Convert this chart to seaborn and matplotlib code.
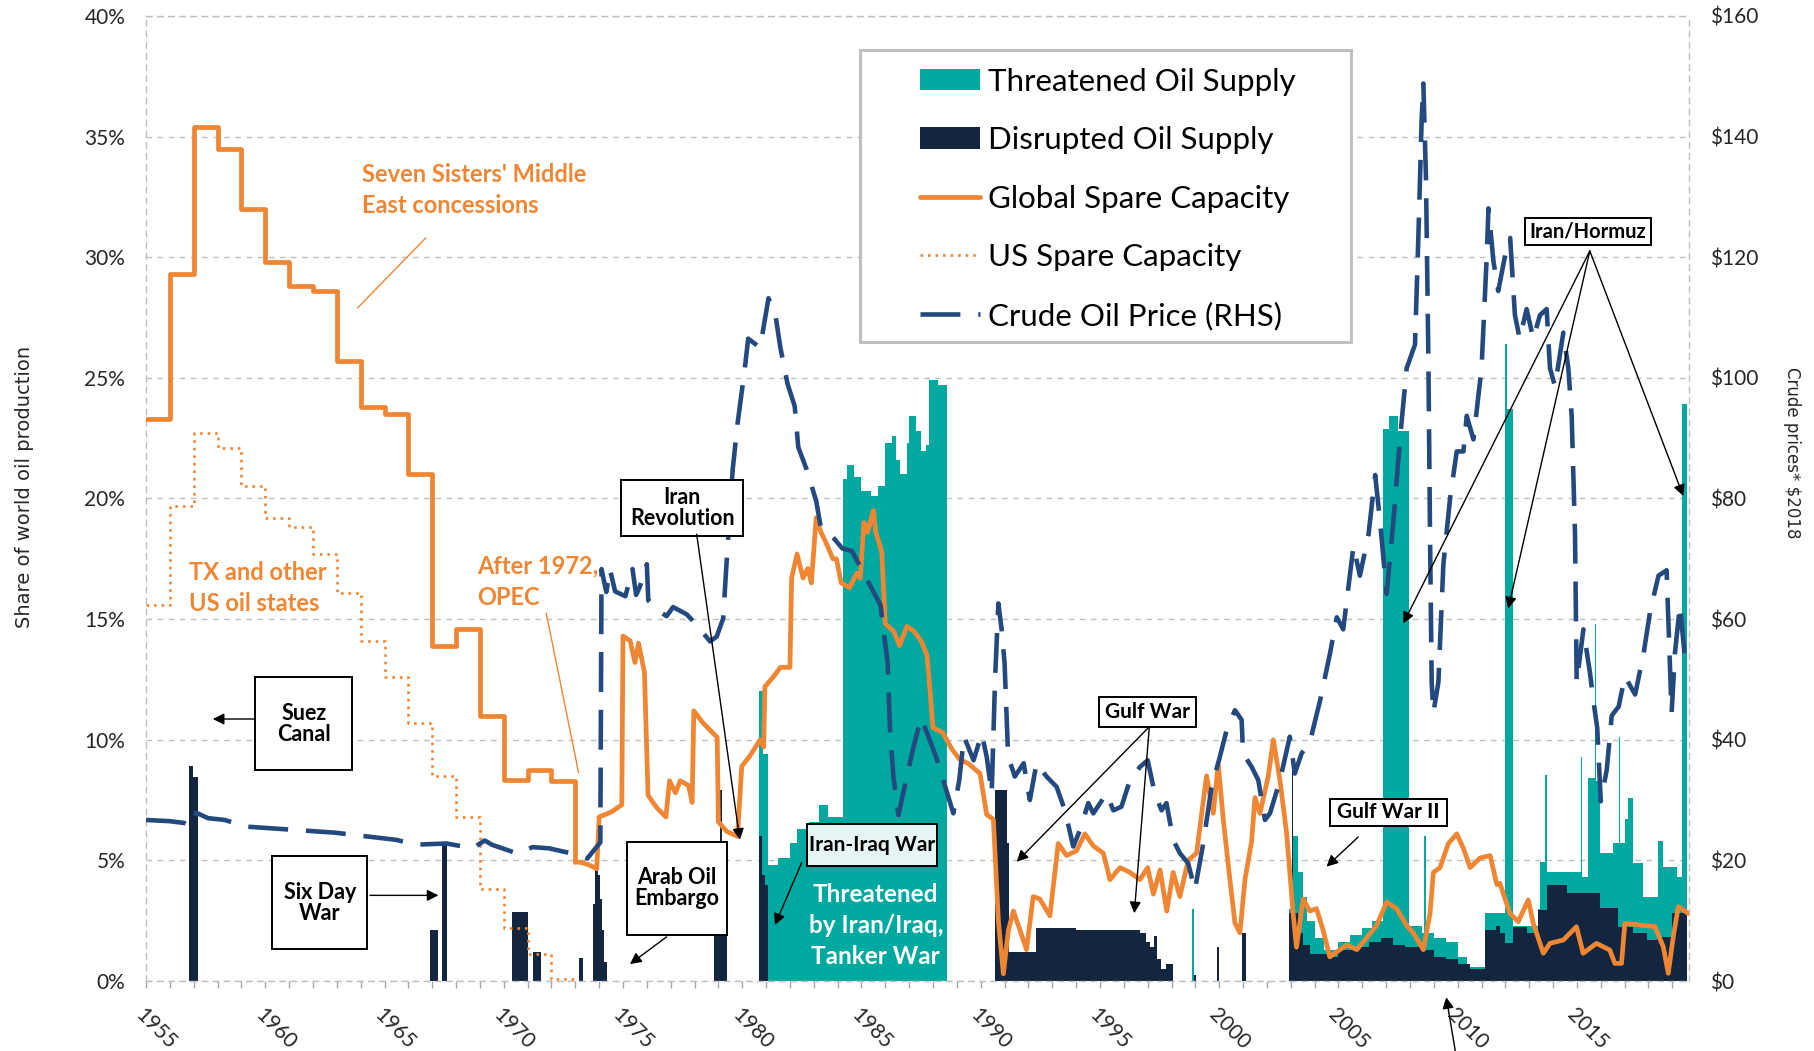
import matplotlib
matplotlib.use("Agg")
import matplotlib.pyplot as plt
import seaborn as sns
from matplotlib.lines import Line2D
from matplotlib.patches import Patch, Rectangle
from matplotlib.ticker import MultipleLocator, FuncFormatter

# ---------------- data ----------------
# Global spare capacity, share of world production (%), annual steps 1955-1972
global_annual = [(1955, 23.3), (1956, 29.3), (1957, 35.4), (1958, 34.5), (1959, 32.0),
                 (1960, 29.8), (1961, 28.8), (1962, 28.6), (1963, 25.7), (1964, 23.8),
                 (1965, 23.5), (1966, 21.0), (1967, 13.9), (1968, 14.6), (1969, 11.0),
                 (1970, 8.35), (1971, 8.75), (1972, 8.3), (1973, 4.95)]
# Global spare capacity after 1973 (year, %)
global_recent = [(1973.0, 4.95), (1973.3, 4.9), (1973.6, 4.8), (1973.9, 4.65), (1974.0, 6.8),
                 (1974.5, 7.0), (1974.95, 7.3), (1975.0, 14.3), (1975.3, 14.1), (1975.5, 13.2),
                 (1975.65, 14.0), (1975.9, 12.8), (1976.05, 7.7), (1976.4, 7.2), (1976.8, 6.8),
                 (1976.95, 8.3), (1977.2, 7.8), (1977.4, 8.3), (1977.75, 8.1), (1977.9, 7.4),
                 (1977.97, 11.2), (1978.35, 10.7), (1978.75, 10.3), (1978.95, 10.1), (1979.0, 6.6),
                 (1979.35, 6.2), (1979.8, 6.0), (1979.98, 8.9), (1980.3, 9.3), (1980.75, 10.0),
                 (1980.9, 9.7), (1980.95, 12.2), (1981.3, 12.6), (1981.6, 13.0), (1982.0, 13.0),
                 (1982.07, 16.7), (1982.3, 17.7), (1982.55, 16.7), (1982.75, 17.1), (1982.9, 16.5),
                 (1983.1, 19.2), (1983.3, 18.6), (1983.5, 18.2), (1983.8, 17.5), (1983.95, 17.5),
                 (1984.15, 16.5), (1984.5, 16.3), (1984.8, 16.9), (1984.95, 16.7), (1985.1, 19.0),
                 (1985.25, 18.6), (1985.5, 19.5), (1985.6, 18.6), (1985.85, 17.8), (1986.0, 14.8),
                 (1986.35, 14.5), (1986.6, 13.9), (1986.9, 14.7), (1987.2, 14.5), (1987.5, 14.1),
                 (1987.75, 13.5), (1988.0, 10.5), (1988.4, 10.3), (1988.8, 9.6), (1989.1, 9.2),
                 (1989.5, 9.0), (1989.97, 8.6), (1990.25, 6.9), (1990.53, 6.7), (1990.74, 2.5),
                 (1990.95, 0.3), (1991.16, 2.1), (1991.37, 2.9), (1991.65, 2.1), (1991.92, 1.3),
                 (1992.2, 3.5), (1992.48, 3.4), (1992.9, 2.7), (1993.25, 5.7), (1993.6, 5.2),
                 (1994.02, 5.4), (1994.37, 6.1), (1994.72, 5.6), (1995.14, 5.3), (1995.42, 4.2),
                 (1995.84, 4.7), (1996.26, 4.5), (1996.68, 4.2), (1997.0, 4.7), (1997.24, 3.6),
                 (1997.52, 4.6), (1997.8, 2.9), (1998.07, 4.5), (1998.35, 3.5), (1998.7, 5.0),
                 (1999.05, 5.3), (1999.47, 8.5), (1999.75, 6.95), (1999.96, 9.0), (2000.17, 6.7),
                 (2000.45, 4.2), (2000.66, 2.4), (2000.87, 2.0), (2001.08, 4.2), (2001.36, 5.8),
                 (2001.5, 7.6), (2001.71, 6.95), (2002.06, 8.5), (2002.27, 10.0), (2002.55, 8.3),
                 (2002.83, 6.1), (2003.1, 2.8), (2003.24, 1.4), (2003.52, 3.4), (2003.8, 2.9),
                 (2004.08, 3.0), (2004.36, 2.1), (2004.64, 1.0), (2004.92, 1.2), (2005.35, 1.5),
                 (2005.77, 1.3), (2006.19, 1.8), (2006.6, 2.3), (2007.02, 3.27), (2007.44, 3.0),
                 (2007.86, 2.3), (2008.14, 2.0), (2008.56, 1.3), (2008.84, 2.8), (2008.98, 4.5),
                 (2009.26, 4.7), (2009.61, 5.7), (2009.96, 6.1), (2010.24, 5.5), (2010.52, 4.7),
                 (2010.94, 5.1), (2011.36, 5.2), (2011.64, 4.0), (2011.77, 4.05), (2012.19, 2.8),
                 (2012.54, 2.46), (2012.96, 3.36), (2013.17, 2.39), (2013.59, 1.15), (2013.87, 1.56),
                 (2014.43, 1.7), (2014.98, 2.25), (2015.26, 1.15), (2015.82, 1.56), (2016.38, 1.28),
                 (2016.59, 0.73), (2016.87, 0.73), (2017.01, 2.39), (2017.64, 2.32), (2018.27, 2.25),
                 (2018.62, 1.42), (2018.83, 0.32), (2019.04, 1.84), (2019.25, 3.08), (2019.67, 2.8)]
# US spare capacity (%), annual steps
us_spare = [(1955, 15.6), (1956, 19.7), (1957, 22.7), (1958, 22.1), (1959, 20.5), (1960, 19.2),
            (1961, 18.8), (1962, 17.7), (1963, 16.1), (1964, 14.1), (1965, 12.6), (1966, 10.7),
            (1967, 8.5), (1968, 6.8), (1969, 3.8), (1970, 2.2), (1971, 1.1), (1972, 0.1), (1973, 0.1)]
# Crude oil price, $2018 (RHS)
price = [(1955.0, 26.7), (1956.0, 26.5), (1956.6, 26.2), (1956.9, 25.6), (1957.1, 27.9),
         (1957.6, 27.0), (1958.3, 26.7), (1959.2, 25.6), (1960.7, 25.2), (1961.8, 24.9),
         (1962.9, 24.6), (1964.4, 23.9), (1965.5, 23.4), (1966.3, 22.6), (1967.6, 22.8),
         (1968.7, 22.0), (1969.2, 23.3), (1969.5, 22.6), (1970.6, 21.1), (1971.2, 22.2),
         (1971.9, 22.0), (1972.9, 21.1), (1973.5, 20.3), (1973.85, 22.0), (1974.05, 23.0),
         (1974.1, 68.3), (1974.3, 64.5), (1974.45, 68.3), (1974.67, 64.6), (1975.1, 63.8),
         (1975.25, 66.0), (1975.4, 68.3), (1975.55, 64.0), (1975.7, 65.3), (1976.0, 69.1),
         (1976.06, 63.1), (1976.55, 61.2), (1976.83, 60.5), (1977.1, 62.0), (1977.67, 60.8),
         (1978.1, 59.0), (1978.65, 56.3), (1978.93, 57.1), (1979.2, 60.1), (1979.35, 69.8),
         (1979.6, 84.8), (1979.8, 92.3), (1980.1, 101.3), (1980.25, 106.5), (1980.75, 105.0),
         (1981.1, 113.2), (1981.4, 110.2), (1981.6, 105.0), (1981.9, 99.0), (1982.2, 95.3),
         (1982.35, 88.5), (1982.7, 84.8), (1983.1, 79.6), (1983.3, 75.1), (1983.8, 73.6),
         (1984.2, 71.7), (1984.6, 71.3), (1985.0, 68.3), (1985.4, 65.3), (1985.8, 62.3),
         (1986.1, 52.6), (1986.2, 41.4), (1986.34, 33.9), (1986.55, 27.5), (1986.9, 33.9),
         (1987.2, 39.1), (1987.5, 43.6), (1987.8, 40.6), (1988.15, 36.9), (1988.6, 31.1),
         (1988.85, 27.8), (1989.1, 33.3), (1989.3, 40.5), (1989.7, 36.6), (1990.04, 41.0),
         (1990.25, 37.2), (1990.46, 31.1), (1990.6, 49.9), (1990.74, 62.6), (1990.88, 58.2),
         (1991.0, 52.7), (1991.15, 37.2), (1991.43, 33.9), (1991.8, 36.1), (1992.06, 30.0),
         (1992.34, 36.1), (1992.76, 33.9), (1993.18, 32.2), (1993.53, 28.3), (1993.88, 22.3),
         (1994.16, 25.0), (1994.51, 29.5), (1994.72, 27.8), (1995.28, 31.1), (1995.56, 28.3),
         (1995.9, 28.9), (1996.26, 33.3), (1996.68, 35.5), (1997.0, 36.6), (1997.3, 31.1),
         (1997.58, 28.3), (1997.79, 29.5), (1998.07, 23.4), (1998.35, 21.2), (1998.7, 19.5),
         (1998.98, 15.1), (1999.33, 22.8), (1999.68, 32.2), (2000.03, 37.2), (2000.31, 41.6),
         (2000.66, 44.9), (2000.94, 43.3), (2001.0, 37.7), (2001.36, 35.5), (2001.64, 33.3),
         (2001.92, 26.7), (2002.13, 27.8), (2002.55, 33.3), (2002.96, 40.5), (2003.17, 34.4),
         (2003.45, 37.7), (2003.8, 39.6), (2004.23, 46.5), (2004.65, 54.4), (2004.93, 60.3),
         (2005.2, 58.3), (2005.63, 72.1), (2005.9, 67.2), (2006.26, 74.0), (2006.54, 83.9),
         (2006.75, 76.0), (2007.02, 64.2), (2007.3, 76.0), (2007.58, 89.8), (2007.86, 101.6),
         (2008.21, 105.5), (2008.35, 123.2), (2008.49, 142.9), (2008.56, 148.8), (2008.67, 133.1),
         (2008.77, 103.5), (2008.84, 74.0), (2008.91, 49.5), (2008.98, 44.5), (2009.19, 49.5),
         (2009.4, 69.1), (2009.68, 80.0), (2009.96, 87.8), (2010.24, 87.8), (2010.38, 93.7),
         (2010.66, 89.8), (2011.0, 101.6), (2011.22, 120.3), (2011.29, 128.1), (2011.5, 119.3),
         (2011.7, 114.4), (2011.99, 120.3), (2012.2, 123.2), (2012.4, 110.4), (2012.6, 106.5),
         (2012.89, 111.4), (2013.17, 106.5), (2013.45, 110.4), (2013.73, 111.4), (2013.87, 101.6),
         (2014.08, 98.6), (2014.43, 107.5), (2014.64, 101.6), (2014.78, 93.7), (2014.92, 74.0),
         (2014.99, 49.5), (2015.27, 58.3), (2015.55, 51.0), (2015.69, 46.5), (2015.85, 42.0),
         (2016.0, 29.8), (2016.25, 35.0), (2016.46, 44.0), (2016.75, 45.5), (2017.01, 50.5),
         (2017.44, 47.5), (2017.8, 54.4), (2018.07, 61.3), (2018.42, 67.2), (2018.76, 68.1),
         (2018.97, 44.5), (2019.11, 54.4), (2019.32, 62.3), (2019.53, 53.4)]
# Disrupted oil supply (% of world production), value holds until next year mark
disrupted = [(1955.0, 0), (1956.79, 8.9), (1956.95, 8.45), (1957.17, 0), (1966.92, 2.1), (1967.23, 0),
             (1967.40, 5.7), (1967.61, 0), (1970.33, 2.85), (1971.0, 0), (1971.23, 1.2), (1971.55, 0),
             (1973.16, 0.95), (1973.31, 0), (1973.76, 3.2), (1973.84, 4.9), (1973.95, 4.4),
             (1974.05, 3.4), (1974.13, 2.1), (1974.22, 0.8), (1974.33, 0), (1978.82, 5.0),
             (1978.9, 5.7), (1979.08, 7.9), (1979.14, 5.7), (1979.35, 0), (1980.72, 6.0),
             (1980.82, 4.4), (1980.95, 4.0), (1981.1, 0), (1990.6, 7.9), (1991.09, 5.7),
             (1991.18, 1.2), (1992.3, 2.2), (1994.0, 2.1), (1996.68, 2.0), (1996.95, 1.6),
             (1997.1, 1.4), (1997.25, 1.85), (1997.4, 0.9), (1997.55, 0.5), (1997.75, 0.7),
             (1998.07, 0), (1998.95, 0.25), (1999.02, 0), (1999.9, 1.4), (1999.98, 0),
             (2000.94, 2.0), (2001.12, 0), (2002.94, 2.8), (2003.04, 9.2), (2003.1, 2.8),
             (2003.3, 2.0), (2003.5, 1.5), (2003.8, 1.1), (2004.5, 1.0), (2005.0, 1.3),
             (2005.8, 1.4), (2006.3, 1.6), (2006.8, 1.8), (2007.3, 1.5), (2007.8, 1.4),
             (2008.5, 1.3), (2009.0, 1.0), (2009.5, 0.9), (2010.0, 0.7), (2010.5, 0.5),
             (2011.15, 2.1), (2011.6, 2.3), (2011.77, 1.98), (2012.0, 1.56), (2012.33, 2.25),
             (2012.9, 1.98), (2013.38, 2.94), (2013.73, 3.98), (2014.57, 3.63), (2015.96, 3.01),
             (2016.73, 2.25), (2017.36, 1.98), (2017.92, 1.7), (2018.34, 1.84), (2018.97, 2.8),
             (2019.62, 0)]
# Threatened oil supply (% of world production)
threatened = [(1955.0, 0), (1980.72, 12.0), (1980.85, 9.4), (1981.1, 4.8), (1981.5, 5.1),
              (1982.0, 5.7), (1982.3, 6.3), (1982.8, 6.6), (1983.2, 7.3), (1983.6, 6.8),
              (1984.24, 20.8), (1984.4, 21.4), (1984.7, 20.9), (1985.0, 20.3), (1985.4, 20.1),
              (1985.7, 20.5), (1986.0, 22.3), (1986.3, 22.6), (1986.45, 21.6), (1986.6, 21.0),
              (1986.9, 22.3), (1987.0, 23.4), (1987.3, 22.8), (1987.5, 21.95), (1987.7, 22.2),
              (1987.85, 24.9), (1988.2, 24.7), (1988.57, 0), (1998.85, 3.0), (1998.95, 0),
              (2002.94, 3.0), (2003.1, 6.0), (2003.3, 4.5), (2003.5, 3.5), (2003.7, 2.5),
              (2004.0, 1.8), (2004.4, 1.3), (2005.0, 1.6), (2005.5, 1.9), (2006.0, 2.2),
              (2006.4, 2.5), (2006.85, 22.9), (2007.1, 23.4), (2007.5, 22.8), (2007.97, 2.3),
              (2008.5, 2.0), (2008.6, 6.0), (2008.68, 2.0), (2009.0, 1.8), (2009.5, 1.6),
              (2010.0, 1.0), (2010.4, 0.6), (2011.15, 2.8), (2011.98, 26.4), (2012.06, 23.7),
              (2012.33, 2.3), (2013.38, 3.0), (2013.45, 4.95), (2013.68, 8.54), (2013.73, 4.53),
              (2015.15, 9.3), (2015.2, 4.3), (2015.47, 8.4), (2015.77, 14.8), (2015.81, 8.3),
              (2015.96, 5.3), (2016.52, 5.7), (2016.75, 10.1), (2016.8, 5.7), (2017.01, 6.7),
              (2017.15, 7.57), (2017.36, 4.88), (2017.78, 3.5), (2018.41, 5.8), (2018.62, 4.74),
              (2019.18, 4.3), (2019.42, 23.9), (2019.62, 0)]

legend_labels = ["Threatened Oil Supply", "Disrupted Oil Supply", "Global Spare Capacity",
                 "US Spare Capacity", "Crude Oil Price (RHS)"]
year_ticks = list(range(1955, 2020, 5))
pct_ticks = list(range(0, 41, 5))
usd_ticks = list(range(0, 161, 20))

# ---------------- style ----------------
sns.set_style("white")
plt.rcParams["font.family"] = ["Lato", "DejaVu Sans"]

TEAL = "#00A99F"
DARK = "#13253F"
ORANGE = "#EE8633"
NAVY = "#23497E"
GRID = "#BFBFBF"
TXT = "#262626"
PX_PER_YEAR = 23.85      # reference pixel scale (used only to size annotation boxes)
PX_PER_PCT = 24.125

fig = plt.figure(figsize=(18.14, 10.51), dpi=100)
fig.patch.set_facecolor("white")
ax = fig.add_axes([0.0805, 0.0666, 0.8506, 0.9182])
ax2 = ax.twinx()


def unzip(pairs):
    return [p[0] for p in pairs], [p[1] for p in pairs]


tx, ty = unzip(threatened)
dx, dy = unzip(disrupted)
ax.fill_between(tx, ty, step="post", color=TEAL, lw=0, zorder=1)
ax.fill_between(dx, dy, step="post", color=DARK, lw=0, zorder=2)

US_DOTS = (0, (1, 1.85))
PRICE_DASH = (0, (8.7, 3.9))

ux, uy = unzip(us_spare)
sns.lineplot(x=ux, y=uy, ax=ax, estimator=None, sort=False, drawstyle="steps-post",
             color=ORANGE, lw=1.9, zorder=3)
ax.lines[-1].set_linestyle(US_DOTS)

gx, gy = unzip(global_annual)
sns.lineplot(x=gx, y=gy, ax=ax, estimator=None, sort=False, drawstyle="steps-post",
             color=ORANGE, lw=3.4, zorder=4)
rx, ry = unzip(global_recent)
sns.lineplot(x=rx, y=ry, ax=ax, estimator=None, sort=False, color=ORANGE, lw=3.4, zorder=4)

px, py = unzip(price)
sns.lineplot(x=px, y=py, ax=ax2, estimator=None, sort=False, color=NAVY, lw=3.3, zorder=3)
ax2.lines[-1].set_linestyle(PRICE_DASH)

# ---------------- axes ----------------
ax.set_xlim(1955, 2019.7)
ax.set_ylim(0, 40)
ax2.set_ylim(0, 160)
ax.set_xlabel("")
ax.set_ylabel("")
ax2.set_ylabel("")

ax.set_yticks(pct_ticks)
ax.yaxis.set_major_formatter(FuncFormatter(lambda v, p: f"{v:.0f}%"))
ax2.set_yticks(usd_ticks)
ax2.yaxis.set_major_formatter(FuncFormatter(lambda v, p: f"${v:.0f}"))
ax.tick_params(axis="y", length=0, pad=15, labelsize=15, labelcolor=TXT)
ax2.tick_params(axis="y", length=0, pad=15, labelsize=15, labelcolor=TXT)

ax.set_xticks(year_ticks)
ax.set_xticklabels([str(y) for y in year_ticks], rotation=-45, ha="left", va="top",
                   rotation_mode="anchor")
ax.xaxis.set_minor_locator(MultipleLocator(1))
ax.tick_params(axis="x", which="both", bottom=True, direction="out", length=5, width=1,
               color="#A6A6A6", labelsize=15, labelcolor=TXT, pad=12)

ax.yaxis.grid(True, color=GRID, linestyle=(0, (4, 4)), lw=1)
ax.xaxis.grid(False)
for s in ax.spines.values():
    s.set_color(GRID)
    s.set_linestyle((0, (4, 4)))
    s.set_linewidth(1)
for s in ax2.spines.values():
    s.set_visible(False)

fig.text(25 / 1814, 1 - 487 / 1051, "Share of world oil production", rotation=90,
         ha="center", va="center", fontsize=14, color=TXT, family="DejaVu Sans")
fig.text(1792 / 1814, 1 - 453 / 1051, "Crude prices* $2018", rotation=270,
         ha="center", va="center", fontsize=12, color=TXT, family="DejaVu Sans")

# ---------------- legend ----------------
ax2.add_patch(Rectangle((0.463, 0.662), 0.318, 0.303, transform=ax2.transAxes,
                        facecolor="white", edgecolor="#BFBFBF", lw=2.2, zorder=8))
handles = [Patch(facecolor=TEAL, edgecolor="none"),
           Patch(facecolor=DARK, edgecolor="none"),
           Line2D([], [], color=ORANGE, lw=3.4),
           Line2D([], [], color=ORANGE, lw=1.9, linestyle=US_DOTS),
           Line2D([], [], color=NAVY, lw=3.3, linestyle=PRICE_DASH)]
leg = ax2.legend(handles, legend_labels, loc="upper left", bbox_to_anchor=(0.5016, 0.9466),
                 bbox_transform=ax2.transAxes, frameon=False, fontsize=22.5,
                 handlelength=1.92, handleheight=0.67, handletextpad=0.25,
                 labelspacing=0.976, borderpad=0, borderaxespad=0)
leg.set_zorder(9)
for t in leg.get_texts():
    t.set_color("black")

# ---------------- annotations ----------------
T = ax.transData


def box(x, y, s, w_px, h_px, fs=15.5, fc="white"):
    w = w_px / PX_PER_YEAR
    h = h_px / PX_PER_PCT
    ax2.add_patch(Rectangle((x - w / 2, y - h / 2), w, h, transform=T, facecolor=fc,
                            edgecolor="black", lw=1.4, zorder=7))
    ax2.text(x, y, s, transform=T, ha="center", va="center", fontsize=fs,
             fontweight="bold", color="black", linespacing=1.0, zorder=8)


def arrow(tail, head, clip=True):
    ax2.annotate("", xy=head, xycoords=T, xytext=tail, textcoords=T,
                 annotation_clip=clip, zorder=7,
                 arrowprops=dict(arrowstyle="-|>", color="black", lw=1.0,
                                 mutation_scale=17, shrinkA=0, shrinkB=0))


def thin(tail, head):
    ax2.annotate("", xy=head, xycoords=T, xytext=tail, textcoords=T, zorder=7,
                 arrowprops=dict(arrowstyle="-", color=ORANGE, lw=1.0,
                                 shrinkA=0, shrinkB=0))


orange_kw = dict(transform=T, ha="left", va="center", fontsize=17, fontweight="bold",
                 color=ORANGE, linespacing=1.42, zorder=7)
ax2.text(1964.07, 32.8, "Seven Sisters' Middle\nEast concessions", **orange_kw)
thin((1966.73, 30.8), (1963.87, 27.9))
ax2.text(1956.79, 16.3, "TX and other\nUS oil states", **orange_kw)
ax2.text(1968.87, 16.55, "After 1972,\nOPEC", **orange_kw)
thin((1971.78, 15.25), (1973.14, 8.63))

box(1961.61, 10.67, "Suez\nCanal", 97, 93)
arrow((1959.58, 10.86), (1957.80, 10.86))
box(1962.29, 3.25, "Six Day\nWar", 95, 93)
arrow((1964.39, 3.55), (1967.26, 3.55))
box(1977.48, 19.61, "Iran\nRevolution", 122, 56)
arrow((1978.09, 18.52), (1979.9, 5.85))
box(1977.25, 3.84, "Arab Oil\nEmbargo", 100, 93)
arrow((1976.83, 1.83), (1975.29, 0.70))
box(1985.44, 5.62, "Iran-Iraq War", 130, 42, fs=15, fc="#E6F4F3")
arrow((1982.49, 4.9), (1981.37, 2.32))
ax2.text(1985.6, 2.3, "Threatened\nby Iran/Iraq,\nTanker War", transform=T, ha="center",
         va="center", fontsize=17.5, fontweight="bold", color="white", linespacing=1.42,
         zorder=7)
box(1997.0, 11.15, "Gulf War", 97, 30, fs=15)
arrow((1997.07, 10.54), (1991.51, 4.94))
arrow((1997.07, 10.54), (1996.44, 2.81))
box(2007.09, 7.0, "Gulf War II", 117, 27, fs=15)
arrow((2005.83, 5.97), (2004.5, 4.74))
box(2015.46, 31.05, "Iran/Hormuz", 126, 27, fs=14.5)
arrow((2015.54, 30.26), (2007.72, 14.82))
arrow((2015.54, 30.26), (2012.12, 15.44))
arrow((2015.54, 30.26), (2019.46, 20.1))
arrow((2009.9, -2.9), (2009.52, -0.67), clip=False)

fig.savefig("out.png", dpi=100, facecolor="white")
